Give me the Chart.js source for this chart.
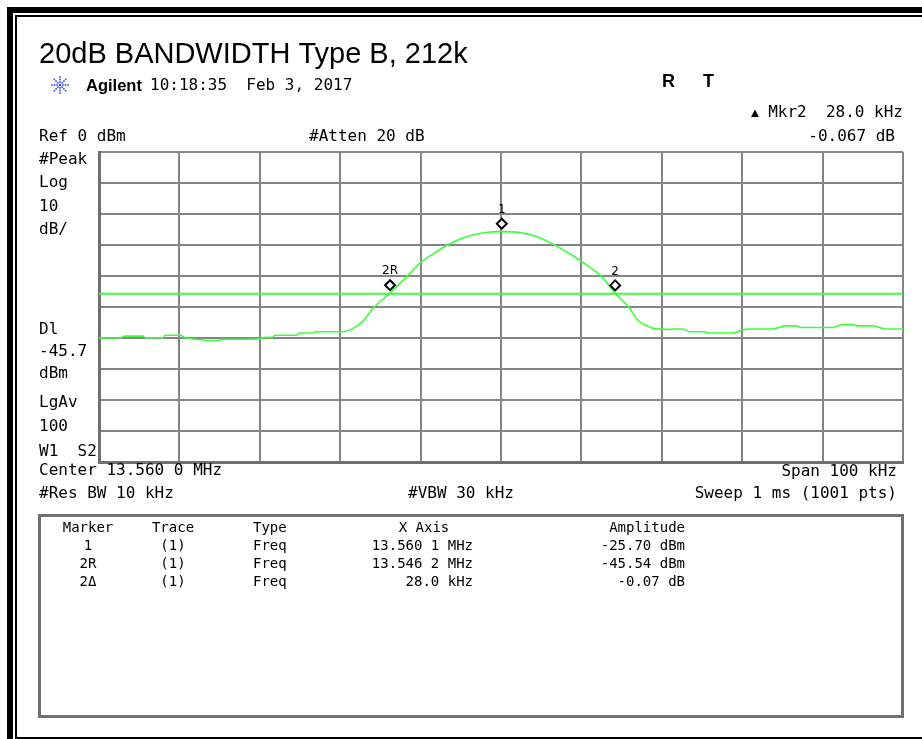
<!DOCTYPE html>
<html>
<head>
<meta charset="utf-8">
<script src="https://cdn.jsdelivr.net/npm/chart.js@4.4.1/dist/chart.umd.min.js"></script>
<style>
html,body{margin:0;padding:0;background:#fff;}
canvas{display:block;}
</style>
</head>
<body>
<canvas id="c" width="922" height="739"></canvas>
<script>
// ---- Data ----
const freqMHz = [13.5100,13.5126,13.5132,13.5155,13.5157,13.5180,13.5182,13.5201,13.5207,13.5222,
  13.5236,13.5250,13.5253,13.5292,13.5303,13.5306,13.5316,13.5319,13.5346,13.5350,
  13.5366,13.5369,13.5402,13.5416,13.5428,13.5441,13.5462,13.5483,13.5499,13.5520,
  13.5540,13.5561,13.5583,13.5601,13.5624,13.5645,13.5665,13.5686,13.5707,13.5727,
  13.5742,13.5760,13.5770,13.5782,13.5789,13.5801,13.5810,13.5814,13.5826,13.5835,
  13.5854,13.5856,13.5889,13.5897,13.5907,13.5938,13.5953,13.5968,13.5972,13.6013,
  13.6025,13.6038,13.6043,13.6063,13.6078,13.6100];
const traceDbm = [-60.0,-60.0,-59.4,-59.4,-59.9,-59.9,-59.1,-59.1,-59.9,-60.4,
  -60.8,-60.8,-60.4,-60.4,-60.0,-59.8,-59.8,-59.1,-59.1,-58.4,
  -58.4,-58.0,-58.0,-56.9,-54.7,-50.4,-45.5,-40.2,-35.9,-32.1,
  -29.1,-27.0,-25.9,-25.7,-26.0,-27.3,-29.8,-32.9,-36.5,-40.7,
  -45.6,-50.4,-54.2,-56.1,-56.9,-57.1,-57.3,-57.1,-57.1,-58.0,
  -58.0,-58.4,-58.4,-57.7,-57.1,-57.1,-56.1,-56.1,-56.6,-56.6,
  -55.7,-55.7,-56.1,-56.1,-57.1,-57.1];
const displayLineDbm = -45.7;
const spanMHz = [13.51, 13.61];
const refLevelDbm = [-100, 0];
const markerLabels = ['1', '2R', '2'];
const markerFreqMHz = [13.5601, 13.5462, 13.5742];
const markerAmpDbm = [-25.70, -45.54, -45.61];
const tableHeader = ['Marker', 'Trace', 'Type', 'X Axis', 'Amplitude'];
const tableMarker = ['1', '2R', '2\u0394'];
const tableTrace = ['(1)', '(1)', '(1)'];
const tableType = ['Freq', 'Freq', 'Freq'];
const tableXAxis = ['13.560 1 MHz', '13.546 2 MHz', '28.0 kHz'];
const tableAmp = ['-25.70 dBm', '-45.54 dBm', '-0.07 dB'];
const leftLabels = ['#Peak', 'Log', '10', 'dB/', 'Dl', '-45.7', 'dBm', 'LgAv', '100', 'W1  S2'];

const MONO = '"DejaVu Sans Mono", monospace';
const SANS = '"Liberation Sans", Arial, sans-serif';
const GREEN = '#3cff3c';

function txt(ctx, s, x, y, font, align, color) {
  ctx.font = font;
  ctx.textAlign = align || 'left';
  ctx.textBaseline = 'middle';
  ctx.fillStyle = color || '#000';
  ctx.fillText(s, x, y);
}

const decor = {
  id: 'decor',
  beforeDraw(chart) {
    const ctx = chart.ctx;
    ctx.save();
    ctx.fillStyle = '#fff';
    ctx.fillRect(0, 0, chart.width, chart.height);
    ctx.restore();
  },
  afterDraw(chart) {
    const ctx = chart.ctx;
    const xs = chart.scales.x, ys = chart.scales.y;
    ctx.save();
    // outer frame
    ctx.fillStyle = '#000';
    ctx.fillRect(7, 7, 915, 6);
    ctx.fillRect(7, 7, 6, 732);
    ctx.fillRect(15, 15, 907, 2);
    ctx.fillRect(15, 15, 2, 724);
    ctx.fillRect(15, 737, 907, 2);

    // title
    ctx.font = '29px ' + SANS;
    ctx.textAlign = 'left';
    ctx.textBaseline = 'alphabetic';
    ctx.fillStyle = '#000';
    ctx.fillText('20dB BANDWIDTH Type B, 212k', 39, 63);

    // Agilent starburst icon
    ctx.fillStyle = '#3048ff';
    for (let k = 0; k < 8; k++) {
      const a = k * Math.PI / 4;
      for (const r of [3, 5.5, 8]) {
        ctx.fillRect(60 + Math.cos(a) * r - 0.8, 85 + Math.sin(a) * r - 0.8, 1.6, 1.6);
      }
    }
    ctx.fillRect(59, 84, 2, 2);

    txt(ctx, 'Agilent', 86, 86, 'bold 16.5px ' + SANS);
    txt(ctx, '10:18:35  Feb 3, 2017', 150, 86, '16px ' + MONO);
    txt(ctx, 'R', 662, 82, 'bold 18px ' + SANS);
    txt(ctx, 'T', 703, 82, 'bold 18px ' + SANS);

    // delta marker readout
    ctx.fillStyle = '#000';
    ctx.beginPath();
    ctx.moveTo(755, 109.5); ctx.lineTo(759, 117); ctx.lineTo(751, 117); ctx.closePath();
    ctx.fill();
    txt(ctx, 'Mkr2  28.0 kHz', 903, 113, '16px ' + MONO, 'right');
    txt(ctx, '-0.067 dB', 895, 137, '16px ' + MONO, 'right');
    txt(ctx, 'Ref 0 dBm', 39, 137, '16px ' + MONO);
    txt(ctx, '#Atten 20 dB', 309, 137, '16px ' + MONO);

    // left annotation column
    const ly = [160, 183, 207, 230, 330, 352, 374, 403, 427, 452];
    leftLabels.forEach((s, i) => txt(ctx, s, 39, ly[i], '16px ' + MONO));

    // bottom settings
    txt(ctx, 'Center 13.560 0 MHz', 39, 471, '16px ' + MONO);
    txt(ctx, 'Span 100 kHz', 897, 472, '16px ' + MONO, 'right');
    txt(ctx, '#Res BW 10 kHz', 39, 494, '16px ' + MONO);
    txt(ctx, '#VBW 30 kHz', 408, 494, '16px ' + MONO);
    txt(ctx, 'Sweep 1 ms (1001 pts)', 897, 494, '16px ' + MONO, 'right');

    // marker table
    ctx.strokeStyle = '#707070';
    ctx.lineWidth = 3;
    ctx.strokeRect(39.5, 515.5, 863, 201);
    const tf = '14px ' + MONO;
    const hy = 528, ry = [546, 564, 582];
    txt(ctx, tableHeader[0], 88, hy, tf, 'center');
    txt(ctx, tableHeader[1], 173, hy, tf, 'center');
    txt(ctx, tableHeader[2], 253, hy, tf, 'left');
    txt(ctx, tableHeader[3], 424, hy, tf, 'center');
    txt(ctx, tableHeader[4], 685, hy, tf, 'right');
    for (let i = 0; i < 3; i++) {
      txt(ctx, tableMarker[i], 88, ry[i], tf, 'center');
      txt(ctx, tableTrace[i], 173, ry[i], tf, 'center');
      txt(ctx, tableType[i], 253, ry[i], tf, 'left');
      txt(ctx, tableXAxis[i], 473, ry[i], tf, 'right');
      txt(ctx, tableAmp[i], 685, ry[i], tf, 'right');
    }

    // markers (diamond drawn just above trace point)
    for (let i = 0; i < markerLabels.length; i++) {
      const px = xs.getPixelForValue(markerFreqMHz[i]);
      const py = ys.getPixelForValue(markerAmpDbm[i]) - 8;
      ctx.beginPath();
      ctx.moveTo(px, py - 5); ctx.lineTo(px + 5, py); ctx.lineTo(px, py + 5); ctx.lineTo(px - 5, py); ctx.closePath();
      ctx.fillStyle = '#fff'; ctx.fill();
      ctx.strokeStyle = '#000'; ctx.lineWidth = 2; ctx.stroke();
      txt(ctx, markerLabels[i], px, py - 14, '12px "DejaVu Sans", sans-serif', 'center');
    }
    ctx.restore();
  }
};

const tracePts = freqMHz.map((f, i) => ({x: f, y: traceDbm[i]}));
const dlPts = spanMHz.map(f => ({x: f, y: displayLineDbm}));

new Chart(document.getElementById('c'), {
  type: 'line',
  data: {
    datasets: [
      {data: dlPts, borderColor: GREEN, borderWidth: 2, pointRadius: 0, tension: 0},
      {data: tracePts, borderColor: GREEN, borderWidth: 1.6, pointRadius: 0, cubicInterpolationMode: 'monotone'}
    ]
  },
  options: {
    responsive: false,
    animation: false,
    events: [],
    layout: {padding: {left: 99, top: 152, right: 19, bottom: 277}},
    plugins: {legend: {display: false}, tooltip: {enabled: false}, title: {display: false}},
    scales: {
      x: {
        type: 'linear', min: spanMHz[0], max: spanMHz[1],
        ticks: {display: false, stepSize: 0.01},
        grid: {color: '#858585', lineWidth: 2, drawTicks: false},
        border: {display: true, color: '#707070', width: 3}
      },
      y: {
        type: 'linear', min: refLevelDbm[0], max: refLevelDbm[1],
        ticks: {display: false, stepSize: 10},
        grid: {color: '#858585', lineWidth: 2, drawTicks: false},
        border: {display: true, color: '#707070', width: 3}
      }
    }
  },
  plugins: [decor]
});
</script>
</body>
</html>
